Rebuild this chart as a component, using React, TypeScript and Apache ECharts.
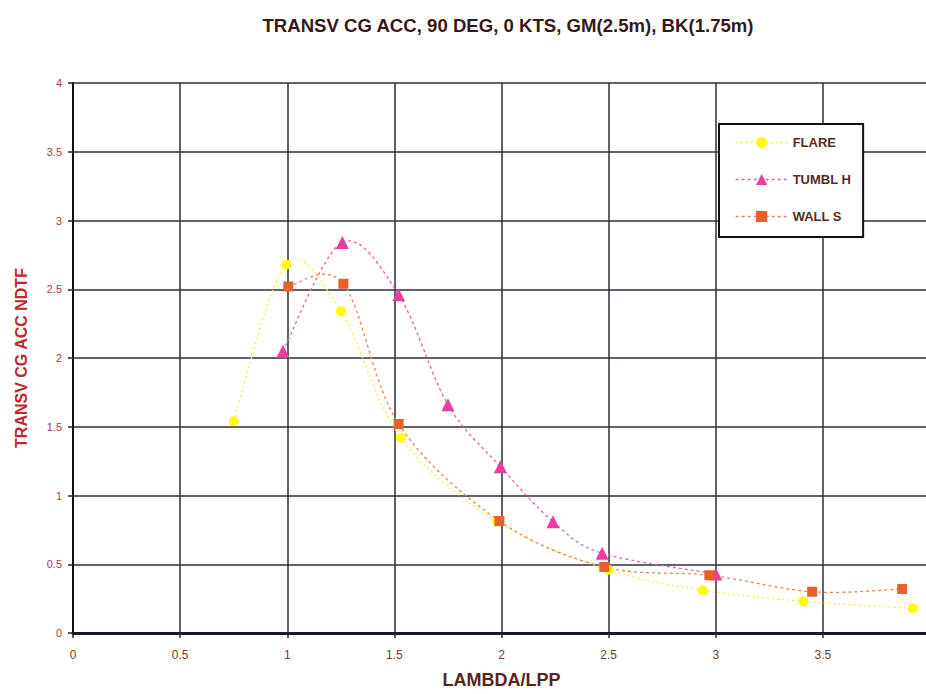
import React, { useEffect, useRef } from "react";
import * as echarts from "echarts";

const titleText = "TRANSV CG ACC, 90 DEG, 0 KTS, GM(2.5m), BK(1.75m)";
const xName = "LAMBDA/LPP";
const yName = "TRANSV CG ACC NDTF";
const seriesNames = ["FLARE", "TUMBL H", "WALL S"];

const flareX = [0.75, 0.995, 1.25, 1.53, 1.98, 2.5, 2.94, 3.41, 3.92];
const flareY = [1.54, 2.68, 2.34, 1.42, 0.81, 0.46, 0.31, 0.23, 0.18];

const tumblX = [0.98, 1.257, 1.52, 1.75, 1.995, 2.24, 2.47, 3.0];
const tumblY = [2.05, 2.84, 2.46, 1.66, 1.21, 0.81, 0.58, 0.43];

const wallX = [1.005, 1.262, 1.52, 1.99, 2.48, 2.97, 3.45, 3.87];
const wallY = [2.52, 2.54, 1.52, 0.815, 0.48, 0.42, 0.3, 0.32];

const zip = (xs: number[], ys: number[]) => xs.map((x, i) => [x, ys[i]]);

const colors = {
  flare: { mark: "#ffff00", line: "#f0ec50" },
  tumbl: { mark: "#ea3e9c", line: "#e066aa" },
  wall: { mark: "#e8602c", line: "#e8875a" },
};

// Excel-style smoothed curve (Catmull-Rom Bezier), drawn in pixel space through the chart's scales
function curveSeries(id: string, xs: number[], ys: number[], color: string, dash: number[]) {
  const n = xs.length;
  return {
    id,
    type: "custom",
    coordinateSystem: "cartesian2d",
    silent: true,
    z: 2,
    data: zip(xs, ys),
    encode: { x: 0, y: 1 },
    renderItem: (params: any, api: any) => {
      const i = params.dataIndex;
      if (i >= n - 1) return null;
      const P = (k: number) => {
        const kk = Math.max(0, Math.min(n - 1, k));
        return api.coord([xs[kk], ys[kk]]);
      };
      const p0 = P(i - 1);
      const p1 = P(i);
      const p2 = P(i + 1);
      const p3 = P(i + 2);
      const t = 1 / 6;
      return {
        type: "bezierCurve",
        shape: {
          x1: p1[0],
          y1: p1[1],
          x2: p2[0],
          y2: p2[1],
          cpx1: p1[0] + (p2[0] - p0[0]) * t,
          cpy1: p1[1] + (p2[1] - p0[1]) * t,
          cpx2: p2[0] - (p3[0] - p1[0]) * t,
          cpy2: p2[1] - (p3[1] - p1[1]) * t,
        },
        style: { stroke: color, fill: null, lineWidth: 1.3, lineDash: dash },
      };
    },
  };
}

export default function App() {
  const ref = useRef<HTMLDivElement>(null);
  useEffect(() => {
    if (!ref.current) return;
    const chart = echarts.init(ref.current, null, { renderer: "svg" });
    const font = "Liberation Sans, Arial, sans-serif";
    const flareDash = [2, 3];
    const tumblDash = [3, 3];
    const wallDash = [3, 3];
    chart.setOption({
      animation: false,
      backgroundColor: "#ffffff",
      title: {
        text: titleText,
        left: 503,
        top: 11,
        textAlign: "center",
        textStyle: { fontFamily: font, fontSize: 18.6, fontWeight: "bold", color: "#361818" },
      },
      legend: {
        orient: "vertical",
        left: 719,
        top: 124,
        padding: [12, 12, 14, 16],
        itemGap: 24,
        itemWidth: 52,
        itemHeight: 14,
        backgroundColor: "#ffffff",
        borderColor: "#111111",
        borderWidth: 2,
        textStyle: { fontFamily: font, fontSize: 13, fontWeight: "bold", color: "#5a2a20" },
        data: [
          { name: seriesNames[0], lineStyle: { opacity: 1, color: colors.flare.line, width: 1.3, type: flareDash } },
          { name: seriesNames[1], lineStyle: { opacity: 1, color: colors.tumbl.line, width: 1.3, type: tumblDash } },
          { name: seriesNames[2], lineStyle: { opacity: 1, color: colors.wall.line, width: 1.3, type: wallDash } },
        ],
      },
      grid: { left: 73, top: 83, width: 857, height: 550, outerBoundsMode: "none", containLabel: false },
      xAxis: {
        type: "value",
        min: 0,
        max: 4,
        interval: 0.5,
        name: xName,
        nameLocation: "middle",
        nameGap: 38,
        nameTextStyle: { fontFamily: font, fontSize: 18, fontWeight: "bold", color: "#5a2418" },
        axisLine: { lineStyle: { color: "#1a1a2a", width: 3 } },
        axisTick: { show: true, inside: false, length: 5, lineStyle: { color: "#222", width: 1.5 } },
        axisLabel: { margin: 16, fontFamily: font, fontSize: 12, color: "#7a3a28" },
        splitLine: { show: true, lineStyle: { color: "#2e2e3a", width: 1.5 } },
      },
      yAxis: {
        type: "value",
        min: 0,
        max: 4,
        interval: 0.5,
        name: yName,
        nameLocation: "middle",
        nameGap: 44,
        nameRotate: 90,
        nameTextStyle: { fontFamily: font, fontSize: 16, fontWeight: "bold", color: "#c0282a" },
        axisLine: { show: true, lineStyle: { color: "#111", width: 2 } },
        axisTick: { show: true, inside: false, length: 5, lineStyle: { color: "#222", width: 1.5 } },
        axisLabel: { margin: 11, fontFamily: font, fontSize: 11, color: "#b8383a" },
        splitLine: { show: true, lineStyle: { color: "#2e2e3a", width: 1.5 } },
      },
      series: [
        curveSeries("flareCurve", flareX, flareY, colors.flare.line, flareDash),
        curveSeries("tumblCurve", tumblX, tumblY, colors.tumbl.line, tumblDash),
        curveSeries("wallCurve", wallX, wallY, colors.wall.line, wallDash),
        {
          name: seriesNames[0],
          type: "line",
          data: zip(flareX, flareY),
          symbol: "circle",
          symbolSize: 10,
          itemStyle: { color: colors.flare.mark },
          lineStyle: { opacity: 0, color: colors.flare.line, width: 1.3, type: flareDash },
          z: 3,
        },
        {
          name: seriesNames[1],
          type: "line",
          data: zip(tumblX, tumblY),
          symbol: "triangle",
          symbolSize: 13,
          itemStyle: { color: colors.tumbl.mark },
          lineStyle: { opacity: 0, color: colors.tumbl.line, width: 1.3, type: tumblDash },
          z: 4,
        },
        {
          name: seriesNames[2],
          type: "line",
          data: zip(wallX, wallY),
          symbol: "rect",
          symbolSize: 10,
          itemStyle: { color: colors.wall.mark },
          lineStyle: { opacity: 0, color: colors.wall.line, width: 1.3, type: wallDash },
          z: 5,
        },
      ],
    });
    return () => chart.dispose();
  }, []);
  return (
    <div
      ref={ref}
      style={{ position: "absolute", left: 0, top: 0, width: 926, height: 694 }}
    />
  );
}
